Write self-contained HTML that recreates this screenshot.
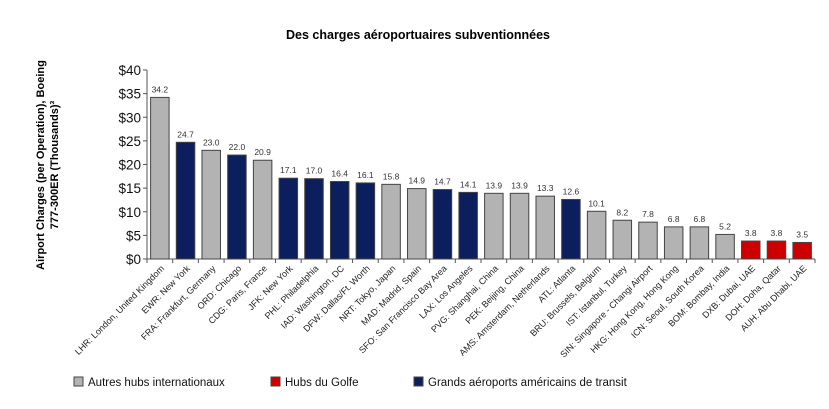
<!DOCTYPE html>
<html><head><meta charset="utf-8"><style>
body{margin:0;background:#fff;width:829px;height:404px;overflow:hidden;font-family:"Liberation Sans",sans-serif}
</style></head><body>
<svg id="c" width="829" height="404">
<text x="418" y="39" text-anchor="middle" font-size="12.5" font-weight="bold">Des charges aéroportuaires subventionnées</text>
<g transform="translate(44,165) rotate(-90)">
<text x="0" y="0" text-anchor="middle" font-size="11" font-weight="bold">Airport Charges (per Operation), Boeing</text>
<text x="0" y="14" text-anchor="middle" font-size="11" font-weight="bold">777-300ER (Thousands)³</text>
</g>
</svg>
<script>
const categories=["LHR: London, United Kingdom","EWR: New York","FRA: Frankfurt, Germany","ORD: Chicago","CDG: Paris, France","JFK: New York","PHL: Philadelphia","IAD: Washington, DC","DFW: Dallas/Ft. Worth","NRT: Tokyo, Japan","MAD: Madrid, Spain","SFO: San Francisco Bay Area","LAX: Los Angeles","PVG: Shanghai, China","PEK: Beijing, China","AMS: Amsterdam, Netherlands","ATL: Atlanta","BRU: Brussels, Belgium","IST: Istanbul, Turkey","SIN: Singapore - Changi Airport","HKG: Hong Kong, Hong Kong","ICN: Seoul, South Korea","BOM: Bombay, India","DXB: Dubai, UAE","DOH: Doha, Qatar","AUH: Abu Dhabi, UAE"];
const values=[34.2,24.7,23.0,22.0,20.9,17.1,17.0,16.4,16.1,15.8,14.9,14.7,14.1,13.9,13.9,13.3,12.6,10.1,8.2,7.8,6.8,6.8,5.2,3.8,3.8,3.5];
const groups=["o","u","o","u","o","u","u","u","u","o","o","u","u","o","o","o","u","o","o","o","o","o","o","g","g","g"];
const yTicks=[0,5,10,15,20,25,30,35,40];
const seriesNames={o:"Autres hubs internationaux",g:"Hubs du Golfe",u:"Grands aéroports américains de transit"};
const colors={o:"#b3b3b3",g:"#cc0000",u:"#0b1f5e"};
const NS="http://www.w3.org/2000/svg",svg=document.getElementById('c');
const x0=147,x1=815,yTop=70,yBot=259,ymax=40;
const y=v=>yBot-(v/ymax)*(yBot-yTop);
const step=(x1-x0)/categories.length;
const xc=i=>x0+step*(i+0.5);
function mk(t,a,p){const e=document.createElementNS(NS,t);for(const k in a)e.setAttribute(k,a[k]);(p||svg).appendChild(e);return e;}
let ax=mk('line',{x1:x0,y1:yTop,x2:x0,y2:yBot,stroke:'#555'});


let bx=mk('line',{x1:x0,y1:yBot,x2:x1,y2:yBot,stroke:'#555'});


yTicks.forEach(t=>{
 mk('line',{x1:x0-4,y1:y(t),x2:x0,y2:y(t),stroke:'#555'});
 const tx=mk('text',{x:x0-6,y:y(t)+5,'text-anchor':'end','font-size':'13.5',fill:'#111'});
 tx.textContent='$'+t;
 
 
});
for(let i=0;i<=categories.length;i++)mk('line',{x1:x0+step*i,y1:yBot,x2:x0+step*i,y2:yBot+4,stroke:'#555'});
const bw=step*0.72;
categories.forEach((c,i)=>{
 const r=mk('rect',{x:xc(i)-bw/2,y:y(values[i]),width:bw,height:yBot-y(values[i]),fill:colors[groups[i]],stroke:'#444','stroke-width':'1'});
 
 
 const v=mk('text',{x:xc(i),y:y(values[i])-5,'text-anchor':'middle','font-size':'8.5',fill:'#333'});
 v.textContent=values[i].toFixed(1);
 
 
 const l=mk('text',{transform:`translate(${xc(i)+5},${yBot+10}) rotate(-45)`,'text-anchor':'end','font-size':'9',fill:'#222'});
 l.textContent=c;
 
 
});
[["o",74],["g",271],["u",414]].forEach(([k,lx])=>{
 const g=mk('g',{});
 
 
 mk('rect',{x:lx,y:377,width:9,height:9,fill:colors[k],stroke:'#444'},g);
 const t=mk('text',{x:lx+14,y:386,'font-size':'11.5',fill:'#111'},g);
 t.textContent=seriesNames[k];
});
</script>
</body></html>
